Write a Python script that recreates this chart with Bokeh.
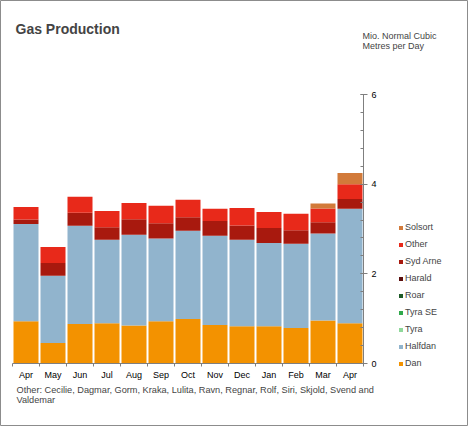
from bokeh.plotting import figure
from bokeh.models import (Range1d, FixedTicker, SingleIntervalTicker, LinearAxis,
                          Legend, LegendItem, Label, ColumnDataSource)
from bokeh.embed import file_html
from bokeh.resources import INLINE

months = ["Apr", "May", "Jun", "Jul", "Aug", "Sep", "Oct", "Nov", "Dec",
          "Jan", "Feb", "Mar", "Apr"]
dan = [0.94, 0.46, 0.88, 0.90, 0.85, 0.94, 0.99, 0.86, 0.83, 0.83, 0.79, 0.96, 0.90]
halfdan = [2.17, 1.50, 2.19, 1.86, 2.02, 1.85, 1.97, 1.99, 1.93, 1.86, 1.88, 1.94, 2.55]
tyra = [0.0] * 13
tyra_se = [0.0] * 13
roar = [0.0] * 13
harald = [0.0] * 13
syd_arne = [0.10, 0.28, 0.29, 0.28, 0.35, 0.34, 0.30, 0.33, 0.32, 0.33, 0.30, 0.25, 0.22]
other = [0.28, 0.36, 0.36, 0.36, 0.36, 0.39, 0.39, 0.27, 0.39, 0.36, 0.37, 0.31, 0.33]
solsort = [0.0, 0.0, 0.0, 0.0, 0.0, 0.0, 0.0, 0.0, 0.0, 0.0, 0.0, 0.11, 0.25]

series = ["Dan", "Halfdan", "Tyra", "Tyra SE", "Roar", "Harald", "Syd Arne", "Other", "Solsort"]
colors = ["#F39200", "#91B4CD", "#8FD89A", "#30A94B", "#1D5A27", "#5A0E0E",
          "#A8190E", "#E8291A", "#D27A3A"]

title_text = "Gas Production"
unit_lines = ["Mio. Normal Cubic", "Metres per Day"]
note_lines = ["Other: Cecilie, Dagmar, Gorm, Kraka, Lulita, Ravn, Regnar, Rolf, Siri, Skjold, Svend and",
              "Valdemar"]
y_max = 6

x = [i + 0.5 for i in range(len(months))]
data = {"x": x, "Dan": dan, "Halfdan": halfdan, "Tyra": tyra, "Tyra SE": tyra_se,
        "Roar": roar, "Harald": harald, "Syd Arne": syd_arne, "Other": other,
        "Solsort": solsort}
src = ColumnDataSource(data)

FONT = "Liberation Sans"
AX = "#7f7f7f"
W, H = 468, 426
# plot area in page pixels
L, R, T, B = 12, 363, 94, 363
xs = (R - L) / len(months)
ys = (B - T) / y_max

p = figure(width=W, height=H, title=None, output_backend="svg", toolbar_location=None,
           x_range=Range1d(-L / xs, (W - L) / xs),
           y_range=Range1d(-(H - B) / ys, B / ys),
           x_axis_location=None, y_axis_location=None, min_border=0)
p.outline_line_color = "#8c8c8c"
p.outline_line_width = 1
p.xgrid.visible = False
p.ygrid.visible = False

renderers = p.vbar_stack(series, x="x", width=0.926, source=src, color=colors,
                         line_color=None)

xaxis = LinearAxis(fixed_location=0, bounds=(0, len(months)),
                   ticker=FixedTicker(ticks=x, minor_ticks=list(range(len(months) + 1))))
xaxis.major_label_overrides = {xv: m for xv, m in zip(x, months)}
xaxis.major_tick_in = 0
xaxis.major_tick_out = 0
xaxis.minor_tick_in = 0
xaxis.minor_tick_out = 3
xaxis.minor_tick_line_color = AX
xaxis.axis_line_color = AX
xaxis.major_label_standoff = 3
xaxis.major_label_text_font = FONT
xaxis.major_label_text_font_size = "9px"
xaxis.major_label_text_color = "black"
p.add_layout(xaxis, "below")

yaxis = LinearAxis(fixed_location=len(months), bounds=(0, y_max),
                   ticker=SingleIntervalTicker(interval=2, num_minor_ticks=5))
yaxis.major_tick_in = 3
yaxis.major_tick_out = 4
yaxis.minor_tick_in = 3
yaxis.minor_tick_out = 0
yaxis.axis_line_color = AX
yaxis.major_tick_line_color = AX
yaxis.minor_tick_line_color = AX
yaxis.major_label_standoff = 4
yaxis.major_label_text_font = FONT
yaxis.major_label_text_font_size = "9px"
yaxis.major_label_text_color = "black"
p.add_layout(yaxis, "right")

items = [LegendItem(label=s, renderers=[r]) for s, r in zip(series, renderers)][::-1]
legend = Legend(items=items, location=(398, H - 368), orientation="vertical",
                glyph_width=5, glyph_height=5, label_height=10, spacing=7,
                padding=0, margin=0, label_standoff=2,
                label_text_font=FONT, label_text_font_size="9px",
                border_line_color=None, background_fill_alpha=0)
p.add_layout(legend, "center")

p.add_layout(Label(x=15, y=H - 28, x_units="screen", y_units="screen", text=title_text,
                   text_font=FONT, text_font_size="14px", text_font_style="bold",
                   text_baseline="middle"))
for i, t in enumerate(unit_lines):
    p.add_layout(Label(x=362, y=H - 35 - 10.3 * i, x_units="screen", y_units="screen",
                       text=t, text_font=FONT, text_font_size="9px",
                       text_baseline="middle"))
for i, t in enumerate(note_lines):
    p.add_layout(Label(x=16, y=H - 389 - 10 * i, x_units="screen", y_units="screen",
                       text=t, text_font=FONT, text_font_size="9.2px",
                       text_baseline="middle"))

open("out.html", "w").write(file_html(p, INLINE))
